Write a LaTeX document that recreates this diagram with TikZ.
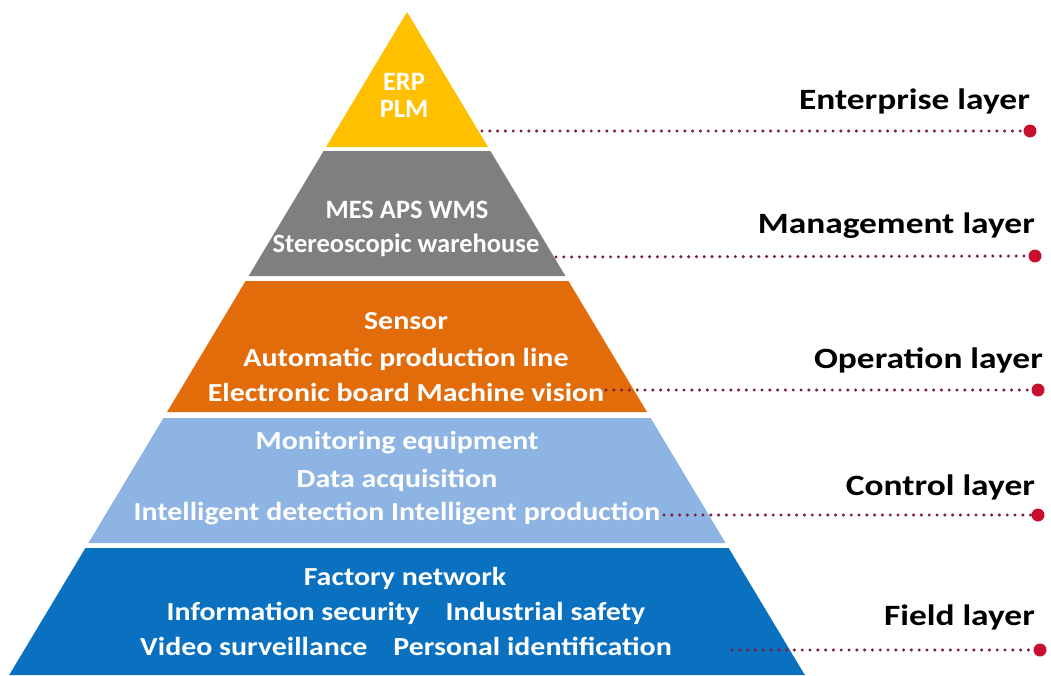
\documentclass[tikz,border=0pt]{standalone}
\usepackage{fontspec}
\setmainfont{Carlito}
\newfontfamily\bandfont[FakeStretch=1.15]{Carlito}
\newfontfamily\namefont[FakeStretch=1.2]{Carlito}
\usetikzlibrary{calc}

\definecolor{erpgold}{HTML}{FFC000}
\definecolor{mesgray}{HTML}{7F7F7F}
\definecolor{opsorange}{HTML}{E36C0A}
\definecolor{ctrlblue}{HTML}{8DB4E2}
\definecolor{fieldblue}{HTML}{0A70C0}
\definecolor{leaderred}{HTML}{7A1F3D}
\definecolor{dotred}{HTML}{C8102E}

\begin{document}
\begin{tikzpicture}[x=1pt,y=-1pt,
  inlayer/.style={text=white,anchor=base,inner sep=0pt,
    font=\bandfont\fontsize{26}{32}\selectfont\bfseries},
  narrow/.style={font=\fontsize{26.5}{32}\selectfont\bfseries},
  layername/.style={text=black,anchor=base east,inner sep=0pt,
    font=\namefont\fontsize{29.5}{35}\selectfont\bfseries},
  leader/.style={leaderred,line width=3.4pt,line cap=round,
    dash pattern=on 0pt off 7.8pt},
  enddot/.style={circle,fill=dotred,inner sep=0pt,minimum size=13pt}]

  \useasboundingbox (0,0) rectangle (1051,675);

  % pyramid, one band per layer: top / bottom / colour
  \foreach \t/\b/\c in {12/147/erpgold,151/276/mesgray,281/412/opsorange,
                         418/543/ctrlblue,548/675/fieldblue}
    \fill[\c] ({407-0.6*(\t-12)},\t) -- ({407+0.6*(\t-12)},\t)
      -- ({407+0.6*(\b-12)},\b) -- ({407-0.6*(\b-12)},\b) -- cycle;

  % texts inside the bands
  \node[inlayer,narrow] (erp)   at (404,90)  {ERP};
  \node[inlayer,narrow] (plm)   at (404,117) {PLM};
  \node[inlayer,narrow] (mes)   at (407,218) {MES APS WMS};
  \node[inlayer,narrow] (stw)   at (406,252) {Stereoscopic warehouse};
  \node[inlayer] (sens)  at (406,329) {Sensor};
  \node[inlayer] (apl)   at (406,366) {Automatic production line};
  \node[inlayer] (ebmv)  at (406,401) {Electronic board Machine vision};
  \node[inlayer] (mon)   at (397,449) {Monitoring equipment};
  \node[inlayer] (daq)   at (397,487) {Data acquisition};
  \node[inlayer] (intel) at (397,520) {Intelligent detection Intelligent production};
  \node[inlayer] (fnet)  at (405,585) {Factory network};
  \node[inlayer] (info)  at (406,620) {Information security\quad Industrial safety};
  \node[inlayer] (video) at (406,655) {Video surveillance\quad Personal identification};

  % layer names
  \node[layername] (ent)  at (1030,109) {Enterprise layer};
  \node[layername] (mgmt) at (1035,233) {Management layer};
  \node[layername] (oper) at (1043,368) {Operation layer};
  \node[layername] (ctrl) at (1035,495) {Control layer};
  \node[layername] (fld)  at (1035,625) {Field layer};

  % where the dotted leaders start
  \coordinate (ent-s)  at (482,131);
  \coordinate (mgmt-s) at (556,257);
  \coordinate (oper-s) at (606,390);
  \coordinate (ctrl-s) at (664,515);
  \coordinate (fld-s)  at (732,650);

  \node[enddot] (ent-d)  at (1030,131) {};
  \node[enddot] (mgmt-d) at (1035,256) {};
  \node[enddot] (oper-d) at (1038,390) {};
  \node[enddot] (ctrl-d) at (1038,515) {};
  \node[enddot] (fld-d)  at (1040,650) {};

  % dotted leaders
  \draw[leader] (ent-s)  -- (ent-d.west);
  \draw[leader] (mgmt-s) -- (mgmt-d.west);
  \draw[leader] (oper-s) -- (oper-d.west);
  \draw[leader] (ctrl-s) -- (ctrl-d.west);
  \draw[leader] (fld-s)  -- (fld-d.west);
\end{tikzpicture}
\end{document}
